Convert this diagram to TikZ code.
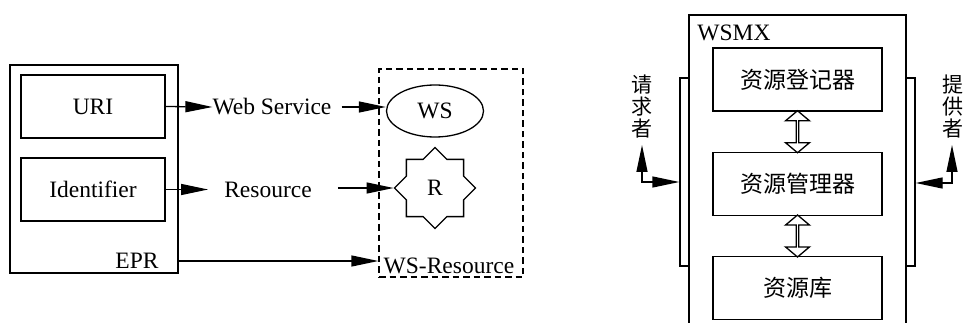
\documentclass[tikz,border=0pt]{standalone}
\usepackage{fontspec}
\setmainfont{Liberation Serif}
\newfontfamily\cjk{Noto Sans CJK SC}
\usetikzlibrary{shapes.geometric,shapes.arrows,arrows.meta,calc}
\begin{document}
\begin{tikzpicture}[x=1pt,y=-1pt,
  every node/.style={font=\fontsize{23.5}{26}\selectfont},
  box/.style={draw,line width=1.3pt,inner sep=0pt},
  lbl/.style={inner sep=0pt},
  ln/.style={line width=1.3pt},
  arr/.style={ln,-{Triangle[length=27pt,width=11pt]}},
  darr/.style={ln,{Triangle[length=27pt,width=11pt]}-{Triangle[length=27pt,width=11pt]}},
  cnbox/.style={box,minimum width=169pt,minimum height=63pt,font=\cjk\fontsize{23}{26}\selectfont},
  cnv/.style={inner sep=0pt,align=center,font=\cjk\fontsize{21}{22}\selectfont},
  hollow/.style={draw,line width=1.3pt,double arrow,shape border rotate=90,
    minimum height=42pt,minimum width=24pt,double arrow head extend=5.5pt,
    double arrow tip angle=100,inner sep=0pt},
]
\useasboundingbox (0,0) rectangle (963,323);
\clip (0,0) rectangle (963,323);

% ---------- left diagram ----------
\node[box,minimum width=168pt,minimum height=208pt] (epr) at (94,169) {};
\node[box,minimum width=144pt,minimum height=63pt] (uri) at (93,106.5) {URI};
\node[box,minimum width=144pt,minimum height=63pt] (id) at (93,189.5) {Identifier};
\node[lbl] (eprl) at (137,261) {EPR};

\node[draw,line width=1.3pt,dash pattern=on 6.5pt off 4pt,minimum width=144pt,minimum height=208pt] (wsr) at (451,173) {};
\node[lbl] (wsrl) at (449,265.5) {WS-Resource};
\node[draw,ellipse,line width=1.3pt,minimum width=97pt,minimum height=52pt,inner sep=0pt] (ws) at (435,111) {WS};
\node[draw,star,star points=8,star point ratio=1.307,line width=1.3pt,minimum size=81pt,inner sep=0pt] (r) at (435,188) {R};

\node[lbl] (wsl) at (272,107) {Web Service};
\node[lbl] (resl) at (268,190) {Resource};

\draw[arr] (uri.east) -- (wsl.west);
\draw[arr] ([xshift=10pt]wsl.east) -- (ws.west |- wsl.east);
\draw[arr] (id.east) -- ([xshift=-16pt]id.east -| resl.west);
\draw[arr] ([xshift=26pt]resl.east |- r.west) -- (r.west);
\draw[arr] (epr.east |- eprl) -- (wsr.west |- eprl);

% ---------- right diagram ----------
\node[box,minimum width=217pt,minimum height=330pt] (wsmx) at (797.5,180) {};
\node[lbl] (wsmxl) at (734,32.5) {WSMX};
\node[cnbox] (reg) at (797.5,79.5) {资源登记器};
\node[cnbox] (mgr) at (797.5,184) {资源管理器};
\node[cnbox] (lib) at (797.5,288) {资源库};

\node[hollow] (h1) at ($(reg.south)!0.5!(mgr.north)$) {};
\node[hollow] (h2) at ($(mgr.south)!0.5!(lib.north)$) {};

\node[box,minimum width=9pt,minimum height=188pt] (lbar) at (684.5,172) {};
\node[box,minimum width=9pt,minimum height=188pt] (rbar) at (910.5,172) {};

\node[cnv] (req) at (642,107) {请\\求\\者};
\node[cnv] (pro) at (953,107) {提\\供\\者};

\coordinate (lq) at (642,145);
\coordinate (lk) at (642,182);
\coordinate (rq) at (952,145);
\coordinate (rk) at (952,183);
\draw[darr] (lq) -- (lk) -- (lbar.west |- lk);
\draw[darr] (rq) -- (rk) -- (rbar.east |- rk);
\end{tikzpicture}
\end{document}
